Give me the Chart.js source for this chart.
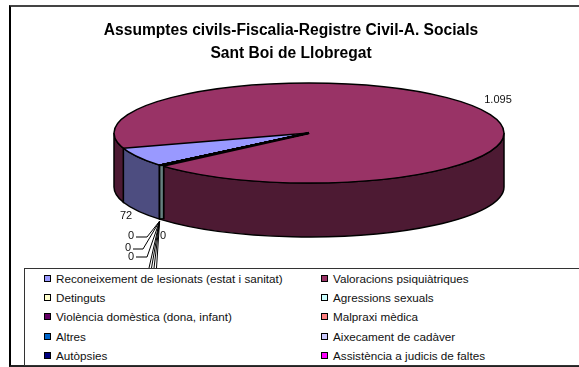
<!DOCTYPE html>
<html>
<head>
<meta charset="utf-8">
<script src="https://cdn.jsdelivr.net/npm/chart.js@4"></script>
<style>
  html, body { margin: 0; padding: 0; background: #fff; overflow: hidden; }
  #wrap { position: relative; width: 579px; height: 367px; overflow: hidden; font-family: "Liberation Sans", Arial, sans-serif; }
  #frame { position: absolute; left: 9px; top: 5px; width: 600px; height: 362px; border-left: 2px solid #000; border-top: 2px solid #444; border-bottom: 2px solid #222; box-sizing: border-box; }
  canvas { position: absolute; left: 0; top: 0; }
  #legend { position: absolute; left: 24px; top: 268px; width: 600px; height: 98px; border: 1px solid #333; background: #fff; box-sizing: border-box; }
  .item { position: absolute; font-size: 11.7px; line-height: 12px; white-space: nowrap; color: #111; }
  .item i { position: absolute; left: -12px; top: 2px; width: 5px; height: 5px; border: 1.5px solid #000; }
</style>
</head>
<body>
<div id="wrap">
  <div id="frame"></div>
  <canvas id="chart" width="579" height="367"></canvas>
  <div id="legend"></div>
</div>
<script>
// Dades del gràfic
const categories = [
  'Reconeixement de lesionats (estat i sanitat)', 'Valoracions psiquiàtriques',
  'Detinguts', 'Agressions sexuals',
  'Violència domèstica (dona, infant)', 'Malpraxi mèdica',
  'Altres', 'Aixecament de cadàver',
  'Autòpsies', 'Assistència a judicis de faltes'
];
const values = [72, 1095, 0, 0, 0, 0, 0, 0, 0, 0];
const valueLabels = ['72', '1.095', '0', '0', '0', '0', '0', '0', '0', '0'];
const colors = ['#9999ff', '#993366', '#ffffcc', '#ccffff', '#660066', '#ff8080', '#0066cc', '#ccccff', '#000080', '#ff00ff'];
const titleLines = ['Assumptes civils-Fiscalia-Registre Civil-A. Socials', 'Sant Boi de Llobregat'];

// Geometria de la falsa perspectiva
const CX = 309, CY = 133, RX = 195, RY = 50, DEPTH = 54;

function darken(hex) {
  const n = parseInt(hex.slice(1), 16);
  const c = [(n >> 16) & 255, (n >> 8) & 255, n & 255].map(v => Math.round(v / 2));
  return `rgb(${c.join(',')})`;
}

// Parets laterals i contorns del pastís
const pie3d = {
  id: 'pie3d',
  beforeDatasetsDraw(chart) {
    const ctx = chart.ctx;
    const arcs = chart.getDatasetMeta(0).data;
    ctx.save();
    arcs.forEach((arc, i) => {
      if (values[i] === 0) return;
      for (const k of [-1, 0, 1]) {
        const a = Math.max(arc.startAngle + k * 2 * Math.PI, 0);
        const b = Math.min(arc.endAngle + k * 2 * Math.PI, Math.PI);
        if (b <= a) continue;
        ctx.beginPath();
        ctx.ellipse(CX, CY, RX, RY, 0, a, b);
        ctx.ellipse(CX, CY + DEPTH, RX, RY, 0, b, a, true);
        ctx.closePath();
        ctx.fillStyle = darken(colors[i]);
        ctx.fill();
        ctx.strokeStyle = '#000';
        ctx.lineWidth = 1.5;
        ctx.stroke();
      }
    });
    ctx.restore();
    // aplanar la cara superior
    ctx.save();
    ctx.translate(CX, CY);
    ctx.scale(1, RY / RX);
    ctx.translate(-arcs[0].x, -arcs[0].y);
  },
  afterDatasetsDraw(chart) {
    const ctx = chart.ctx;
    ctx.restore();
    const arcs = chart.getDatasetMeta(0).data;
    ctx.save();
    ctx.strokeStyle = '#000';
    ctx.lineWidth = 1.5;
    ctx.beginPath();
    ctx.ellipse(CX, CY, RX, RY, 0, 0, 2 * Math.PI);
    ctx.stroke();
    arcs.forEach(arc => {
      const x = CX + RX * Math.cos(arc.startAngle);
      const y = CY + RY * Math.sin(arc.startAngle);
      ctx.beginPath();
      ctx.moveTo(CX, CY);
      ctx.lineTo(x, y);
      ctx.stroke();
    });

    // les llesques de valor 0: línia gruixuda a la cara i franja a la paret
    const zero = arcs[2];
    const zx = CX + RX * Math.cos(zero.startAngle);
    const zy = CY + RY * Math.sin(zero.startAngle);
    ctx.lineWidth = 2.5;
    ctx.beginPath();
    ctx.moveTo(CX, CY);
    ctx.lineTo(zx + 2, zy + 1);
    ctx.stroke();
    ctx.lineWidth = 6;
    ctx.beginPath();
    ctx.moveTo(zx + 2, zy);
    ctx.lineTo(zx + 2, zy + DEPTH);
    ctx.stroke();
    ctx.strokeStyle = '#668080';
    ctx.lineWidth = 2.5;
    ctx.beginPath();
    ctx.moveTo(zx + 2, zy + 1);
    ctx.lineTo(zx + 2, zy + DEPTH - 1);
    ctx.stroke();

    // línies guia de les etiquetes a zero
    const ax = zx, ay = zy + DEPTH + 2;
    ctx.strokeStyle = '#000';
    ctx.lineWidth = 1;
    [[147, 237, 136, 237], [143, 249, 133, 249], [147, 257, 136, 257]].forEach(p => {
      ctx.beginPath();
      ctx.moveTo(ax, ay);
      ctx.lineTo(p[0], p[1]);
      ctx.lineTo(p[2], p[3]);
      ctx.stroke();
    });
    [149, 151.5, 154, 156.5].forEach(x => {
      ctx.beginPath();
      ctx.moveTo(ax, ay);
      ctx.lineTo(x, 268);
      ctx.stroke();
    });

    // etiquetes de valor
    ctx.fillStyle = '#111';
    ctx.font = '11px "Liberation Sans", Arial, sans-serif';
    ctx.textAlign = 'center';
    ctx.textBaseline = 'middle';
    ctx.fillText(valueLabels[0], 126, 216);
    ctx.fillText(valueLabels[1], 498, 100);
    ctx.fillText(valueLabels[2], 131, 236);
    ctx.fillText(valueLabels[3], 163, 236);
    ctx.fillText(valueLabels[4], 128, 248);
    ctx.fillText(valueLabels[5], 131, 257);
    ctx.restore();
  }
};

new Chart(document.getElementById('chart'), {
  type: 'pie',
  data: {
    labels: categories,
    datasets: [{ data: values, backgroundColor: colors, borderWidth: 0 }]
  },
  options: {
    responsive: false,
    animation: false,
    rotation: 230,
    radius: RX,
    layout: { padding: { left: 3 } },
    plugins: {
      legend: { display: false },
      tooltip: { enabled: false },
      title: {
        display: true,
        text: titleLines,
        color: '#000',
        font: { family: '"Liberation Sans", Arial, sans-serif', size: 15.6, weight: 'bold', lineHeight: 1.5 },
        padding: { top: 19, bottom: 0 }
      }
    }
  },
  plugins: [pie3d]
});

// Llegenda en dues columnes
const legend = document.getElementById('legend');
categories.forEach((name, i) => {
  const col = i % 2, row = Math.floor(i / 2);
  const el = document.createElement('div');
  el.className = 'item';
  el.style.left = (col === 0 ? 31 : 308) + 'px';
  el.style.top = (3.5 + row * 19.4) + 'px';
  el.innerHTML = `<i style="background:${colors[i]}"></i>${name}`;
  legend.appendChild(el);
});
</script>
</body>
</html>
